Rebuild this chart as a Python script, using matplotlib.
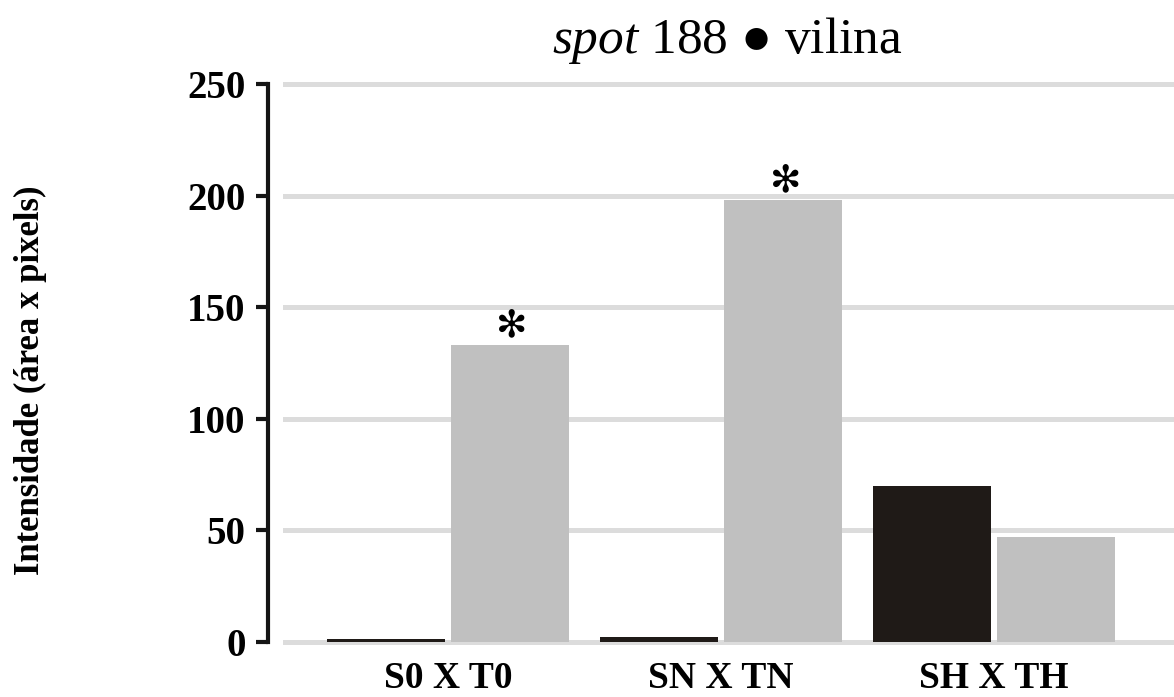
import matplotlib
matplotlib.use("Agg")
import matplotlib.pyplot as plt
import numpy as np

# Data
categories = ["S0 X T0", "SN X TN", "SH X TH"]
serie_s = [1.3, 2.4, 70.0]      # black bars
serie_t = [133.0, 198.0, 47.0]  # grey bars
significant_t = [True, True, False]
yticks = [0, 50, 100, 150, 200, 250]
title_italic = "spot"
title_rest = "188 ● vilina"
ylabel = "Intensidade (área x pixels)"

plt.rcParams['font.family'] = ['Liberation Serif', 'DejaVu Serif']
plt.rcParams['mathtext.fontset'] = 'custom'
plt.rcParams['mathtext.it'] = 'Liberation Serif:italic'
plt.rcParams['mathtext.rm'] = 'Liberation Serif'

fig = plt.figure(figsize=(11.74, 6.97), dpi=100)
ax = fig.add_axes([283/1174, 1-644.7/697, 1-283/1174, (644.7-81.3)/697])

x = np.arange(len(categories))
w = 0.432
off = 0.227
ax.bar(x - off, serie_s, width=w, color='#1f1a17', zorder=3)
ax.bar(x + off, serie_t, width=w, color='#c0c0c0', zorder=3)

for xi, v, s in zip(x, serie_t, significant_t):
    if s:
        ax.text(xi + off + 0.008, v + 0.5, "✻", ha='center', va='bottom',
                fontsize=27, family=['DejaVu Sans'], color='black', zorder=4)

ax.set_xlim(-0.604, 2.659)
ax.set_ylim(-1.2, 251.2)
ax.set_yticks(yticks)
ax.set_yticklabels([str(t) for t in yticks])
ax.set_xticks(x)
ax.set_xticklabels(categories)

ax.yaxis.grid(True, color='#dcdcdc', linewidth=3.6, zorder=0)
ax.set_axisbelow(True)
for sp in ['top', 'right', 'bottom']:
    ax.spines[sp].set_visible(False)
ax.spines['left'].set_position(('outward', 11))
ax.spines['left'].set_bounds(0, 250)
ax.spines['left'].set_linewidth(3.0)
ax.spines['left'].set_color('#151515')
ax.tick_params(axis='y', direction='out', length=9, width=3.0, color='#151515',
               pad=7, labelsize=28)
ax.tick_params(axis='x', length=0, pad=12, labelsize=27)
for lab in ax.get_yticklabels() + ax.get_xticklabels():
    lab.set_fontweight('bold')

fig.text(30/1174, 1-380/697, ylabel, rotation=90, ha='center', va='center',
         fontsize=25, fontweight='bold')
fig.text(727/1174, 1-40/697, r"$\mathit{" + title_italic + "}$ " + title_rest,
         ha='center', va='center', fontsize=37)

fig.savefig("out.png", dpi=100)
